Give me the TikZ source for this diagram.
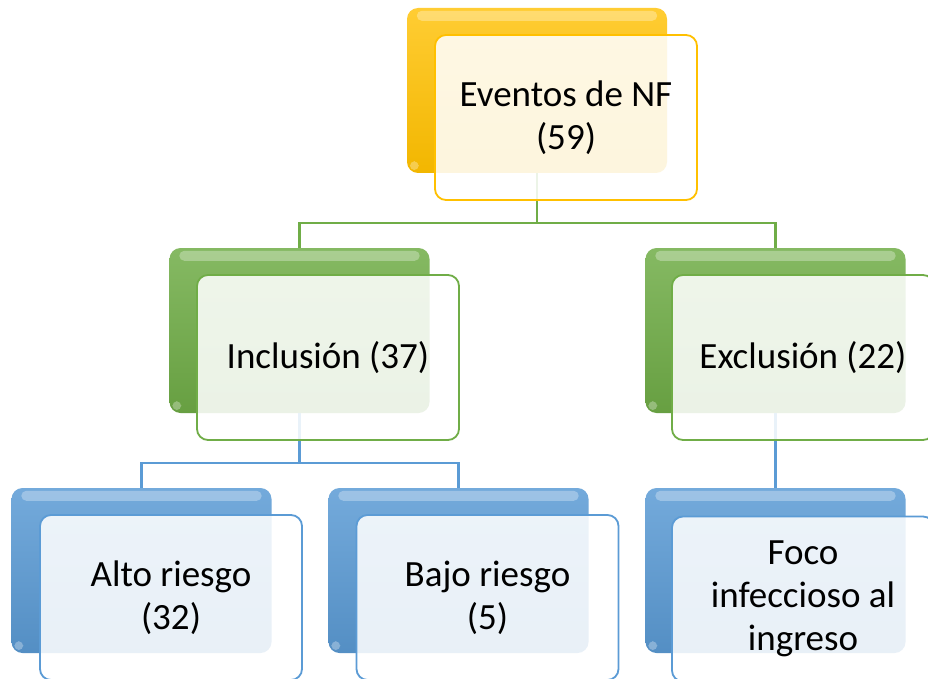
\documentclass[tikz,border=0pt]{standalone}
\usepackage{fontspec}
\setmainfont{Carlito}
\definecolor{gold}{HTML}{FFC000}
\definecolor{leaf}{HTML}{70AD47}
\definecolor{sky}{HTML}{5B9BD5}
\begin{document}
\begin{tikzpicture}[x=1pt,y=-1pt,
  backbox/.style={minimum width=260pt, minimum height=165pt, rounded corners=11pt, inner sep=0pt},
  goldback/.style={backbox, top color=gold!80!white, bottom color=gold!95!black},
  leafback/.style={backbox, top color=leaf!85!white, bottom color=leaf!92!black},
  skyback/.style={backbox, top color=sky!85!white, bottom color=sky!92!black},
  frontbox/.style={minimum width=262pt, minimum height=165pt, rounded corners=11pt, inner sep=0pt,
    fill=white, fill opacity=0.87, text opacity=1, line width=1.8pt,
    font=\fontsize{37}{43}\selectfont, align=center},
  goldfront/.style={frontbox, draw=gold},
  leaffront/.style={frontbox, draw=leaf},
  skyfront/.style={frontbox, draw=sky},
  gline/.style={draw=leaf, line width=2.2pt},
  bline/.style={draw=sky, line width=2.2pt},
  gloss/.style={fill=white, opacity=0.3, rounded corners=5pt}
]
\clip (0,0) rectangle (928,679);
\fill[white] (0,0) rectangle (928,679);

% back boxes
\node[goldback] (topback) at (537,90.5) {};
\node[leafback] (inclback) at (299.5,330.5) {};
\node[leafback] (exclback) at (775.5,330.5) {};
\node[skyback] (altoback) at (141.5,570.5) {};
\node[skyback] (bajoback) at (458.5,570.5) {};
\node[skyback] (focoback) at (775.5,570.5) {};

% connectors
\draw[gline] (topback.south) -- ++(0,50) coordinate (hub1) -| (inclback.north);
\draw[gline] (hub1) -| (exclback.north);
\draw[bline] (inclback.south) -- ++(0,50) coordinate (hub2) -| (altoback.north);
\draw[bline] (hub2) -| (bajoback.north);
\draw[bline] (exclback.south) -- (focoback.north);

% gloss highlights
\foreach \b in {topback,inclback,exclback,altoback,bajoback,focoback}{
  \fill[gloss] ([xshift=10pt,yshift=-3pt]\b.north west) rectangle ([xshift=-10pt,yshift=-13pt]\b.north east);
  \fill[gloss] ([xshift=3pt,yshift=12pt]\b.south west) rectangle ([xshift=12pt,yshift=3pt]\b.south west);
}

% front boxes
\node[goldfront] (top) at (566,117.5) {Eventos de NF\\(59)};
\node[leaffront] (incl) at (328,357.5) {Inclusión (37)};
\node[leaffront] (excl) at (803,357.5) {Exclusión (22)};
\node[skyfront] (alto) at (171,597.5) {Alto riesgo\\(32)};
\node[skyfront] (bajo) at (487.5,597.5) {Bajo riesgo\\(5)};
\node[skyfront] (foco) at (803,599) {Foco\\infeccioso al\\ingreso};
\end{tikzpicture}
\end{document}
